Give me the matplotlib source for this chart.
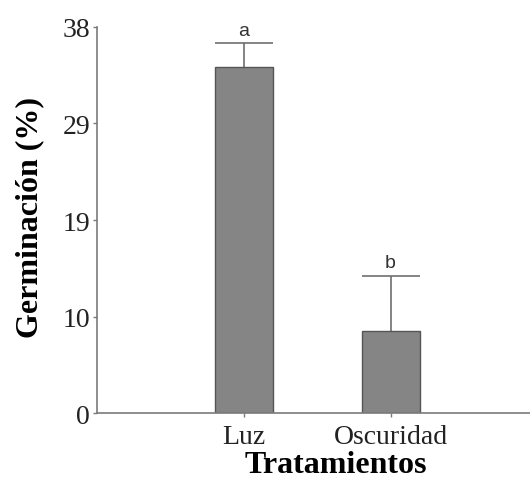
import matplotlib
matplotlib.use("Agg")
import matplotlib.pyplot as plt

categories = ["Luz", "Oscuridad"]
values = [34.1, 8.1]
err_upper = [2.3, 5.4]
letters = ["a", "b"]
ytick_pos = [0, 9.5, 19, 28.5, 38]
ytick_labels = ["0", "10", "19", "29", "38"]

fig = plt.figure(figsize=(5.3, 4.81), dpi=100)
ax = fig.add_axes([0.183, 0.139, 0.817, 0.803])

x = list(range(len(categories)))
bw = 0.395
ax.bar(x, values, width=bw, color="#858585", edgecolor="#555555", linewidth=1.0, zorder=2)
tops = [v + e for v, e in zip(values, err_upper)]
ax.vlines(x, values, tops, color="#707070", linewidth=1.2, zorder=1)
ax.hlines(tops, [xi - bw / 2 for xi in x], [xi + bw / 2 for xi in x],
          color="#707070", linewidth=1.2, zorder=1)
for xi, t, lt in zip(x, tops, letters):
    ax.text(xi, t + 0.45, lt, ha="center", va="bottom", fontsize=14,
            family="Liberation Sans", color="#333333")

ax.set_xlim(-1.0, 1.95)
ax.set_ylim(0, 38)
ax.set_yticks(ytick_pos)
ax.set_yticklabels(ytick_labels)
ax.set_xticks(x)
ax.set_xticklabels(categories)
for s in ["top", "right"]:
    ax.spines[s].set_visible(False)
for s in ["left", "bottom"]:
    ax.spines[s].set_color("#7a7a7a")
    ax.spines[s].set_linewidth(1.2)
ax.tick_params(axis="both", direction="out", length=3, width=1, color="#7a7a7a",
               labelsize=20, pad=2)
ax.tick_params(axis="x", pad=5)
for lab in ax.get_xticklabels() + ax.get_yticklabels():
    lab.set_family("Liberation Serif")
    lab.set_color("#222222")
ax.set_ylabel("Germinación (%)", family="Liberation Serif", fontweight="bold",
              fontsize=23)
ax.set_xlabel("Tratamientos", family="Liberation Serif", fontweight="bold",
              fontsize=23)
axw = 0.817 * 530
axh = 0.803 * 481
ax.yaxis.set_label_coords((30 - 97) / axw, (414 - 217) / axh)
ax.xaxis.set_label_coords((336 - 97) / axw, -(465 - 414) / axh)
ax.xaxis.label.set_va("center")
ax.yaxis.label.set_va("center")

fig.savefig("out.png", dpi=100)
